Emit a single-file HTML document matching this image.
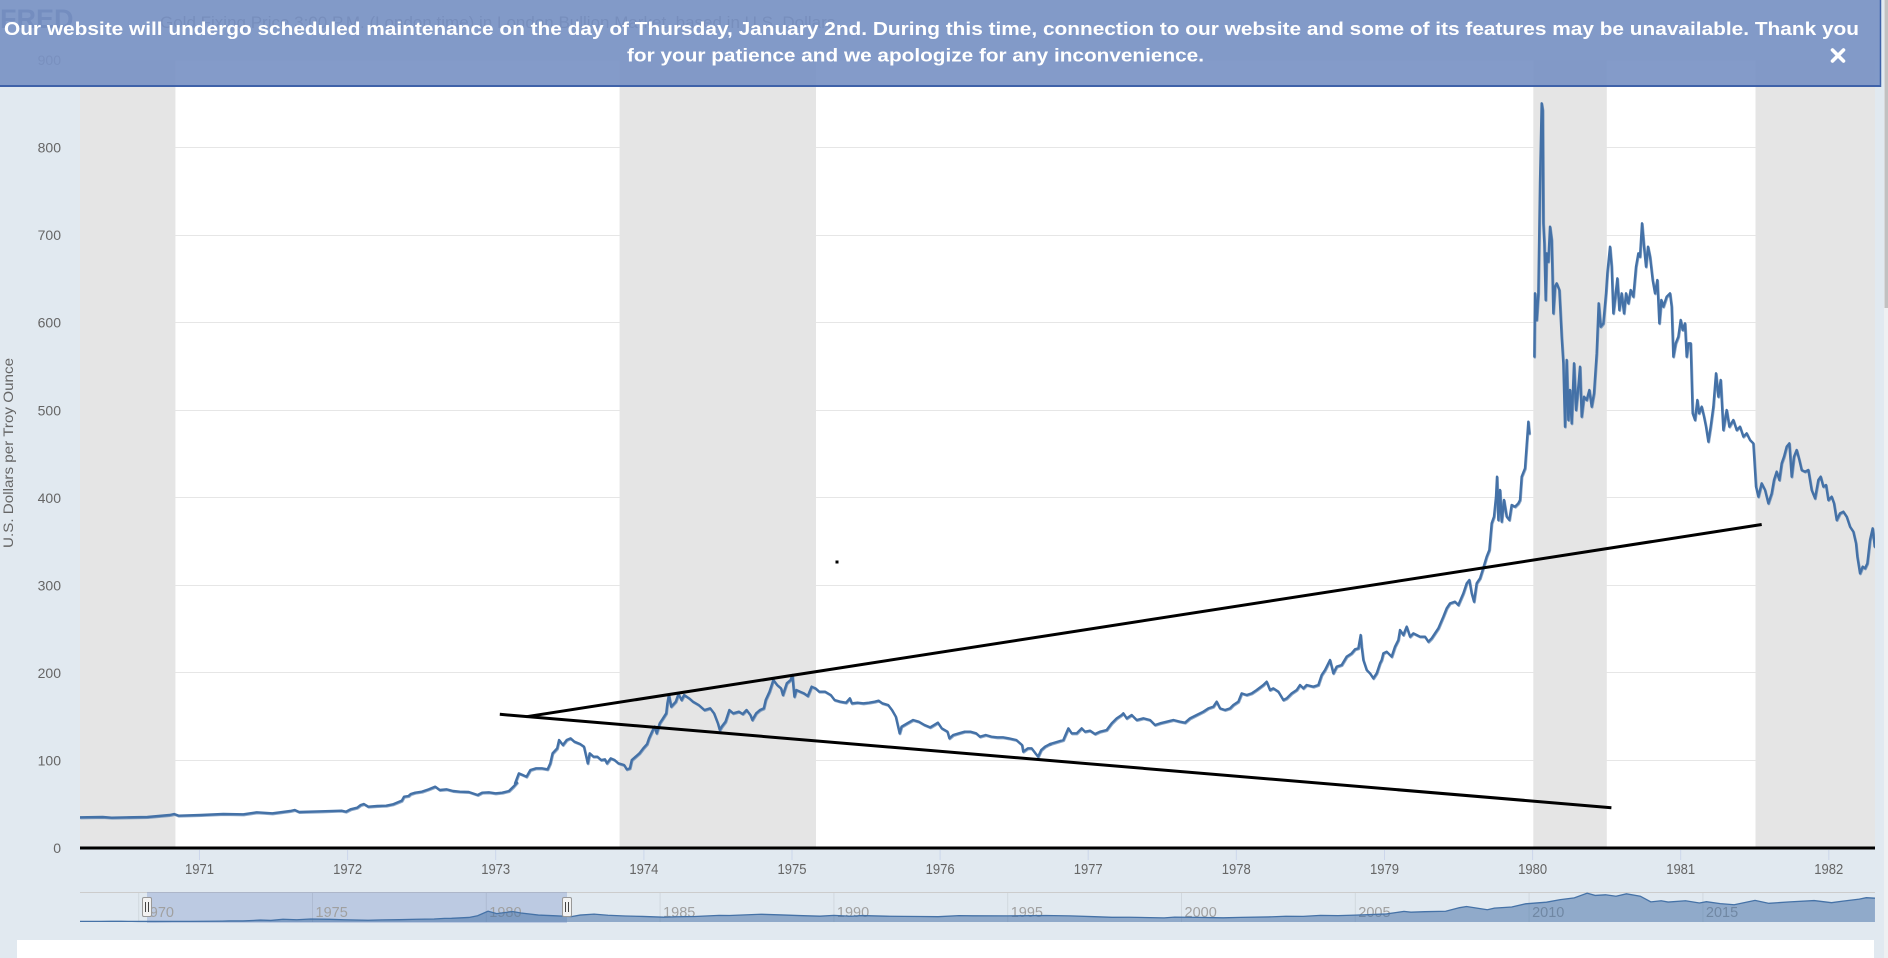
<!DOCTYPE html>
<html>
<head>
<meta charset="utf-8">
<style>
html,body{margin:0;padding:0;background:#e1e9f0;}
body{width:1888px;height:958px;overflow:hidden;}
svg{display:block;}
</style>
</head>
<body>
<svg width="1888" height="958" viewBox="0 0 1888 958" xmlns="http://www.w3.org/2000/svg" font-family="'Liberation Sans', Arial, sans-serif">
  <defs>
    <clipPath id="navclip"><rect x="80" y="880" width="1795" height="43"/></clipPath>
    <clipPath id="plotclip"><rect x="80" y="55" width="1795" height="795"/></clipPath>
    <g id="series">
    <g transform="translate(0,780) scale(0.44643,0.33333)">
      <polyline vector-effect="non-scaling-stroke" points="180,112 230,111 250,113 330,111 380,105 390,102 400,107 450,105 500,102 545,103 575,97 610,100 650,93 660,90 670,96 720,94 765,92 775,95 785,88 800,83 808,75 815,72 825,80 845,78 865,77 880,73 900,62 905,50 915,48 920,42 930,38 945,35 960,28 975,20 985,30 1000,28 1015,33 1030,35 1050,36 1070,45 1080,38 1095,37 1110,40 1125,38 1140,33 1150,20 1158,8"/>
    </g>
    <g transform="translate(450,620) scale(0.38265,0.33333)">
      <polyline vector-effect="non-scaling-stroke" points="170,490 180,460 190,465 200,470 210,450 225,445 240,445 255,448 262,430 268,400 280,385 285,360 295,375 305,360 315,355 325,365 340,372 350,380 360,430 365,400 375,410 385,410 395,420 405,418 410,430 420,415 430,420 440,430 455,435 462,448 470,445 475,420 485,410 495,400 505,385 515,372 520,355 530,330 535,320 540,340 548,310 555,298 565,280 568,250 572,225 578,260 590,245 597,222 605,240 612,225 625,235 635,245 650,255 665,270 680,265 690,280 700,310 705,330 710,320 720,305 730,270 740,280 755,275 765,282 775,270 785,285 790,300 800,280 810,270 820,265 825,240 835,215 845,180 855,195 865,205 870,225 880,190 890,180 895,165 897,195 900,230 905,210 915,215 925,220 935,228 945,200 955,205 965,215 980,215 995,225 1005,240 1020,245 1035,248 1045,235 1050,250 1065,248 1080,250 1095,248 1110,245 1120,242 1130,250 1145,255 1155,270 1165,290 1170,315 1175,340 1180,320 1195,310 1210,300 1225,305 1240,315 1255,322 1265,315 1275,308 1285,325 1300,335 1305,355 1315,345 1330,340 1345,335 1360,335 1375,340 1385,350 1400,345 1415,350 1430,352 1445,352 1460,355 1480,360 1495,375 1498,395 1510,385 1520,385 1530,400 1537,410 1545,390 1555,380 1568,372"/>
    </g>
    <g transform="translate(1050,380) scale(0.33333)">
      <polyline vector-effect="non-scaling-stroke" points="0,1092 40,1080 55,1045 65,1060 80,1060 95,1045 105,1055 120,1052 135,1062 150,1055 170,1050 185,1030 200,1015 215,1005 220,1000 230,1015 245,1005 260,1020 280,1015 300,1020 315,1035 330,1030 350,1025 370,1020 390,1025 405,1028 420,1015 440,1005 460,995 475,985 490,980 500,965 510,985 525,990 540,985 550,975 565,965 575,940 590,945 605,940 620,930 640,915 650,905 660,930 670,925 685,935 700,960 710,955 725,940 740,930 750,915 760,925 770,915 790,920 805,915 815,885 825,870 840,840 850,880 860,860 875,855 890,830 905,820 915,808 925,805 932,765 935,800 940,840 950,870 960,880 970,895 980,880 990,850 995,840 1000,820 1010,815 1025,830 1035,800 1045,780 1050,750 1060,765 1070,740 1080,770 1090,760 1100,765 1110,770 1125,770 1135,785 1145,775 1155,760 1165,745 1180,710 1190,685 1200,670 1215,665 1225,675 1240,640 1250,610 1258,600 1265,640 1272,665 1280,610 1290,595 1298,570 1310,530 1318,510 1325,430 1332,410 1338,350 1341,290 1345,420 1350,330 1355,425 1362,360 1370,410 1378,420 1385,375 1395,380 1405,370 1410,360 1415,290 1425,265 1435,125 1438,160"/>
    </g>
    <g transform="translate(1500,80) scale(0.33333)">
      <polyline vector-effect="non-scaling-stroke" points="103,830 105,640 110,720 115,640 120,310 125,70 128,90 130,430 133,490 137,660 140,520 145,545 150,440 155,480 160,700 165,620 170,610 178,630 185,770 190,850 195,1040 200,840 205,1020 210,930 215,1030 222,850 228,990 235,920 240,860 245,1010 252,950 260,960 268,930 275,980 282,940 290,820 296,670 302,740 310,730 318,640 322,580 330,500 335,560 340,700 346,650 352,595 358,690 365,640 372,700 378,640 385,670 392,630 400,650 408,560 415,520 420,530 426,430 432,500 438,560 444,500 450,530 458,600 465,640 472,600 478,730 484,660 490,680 500,650 510,640 515,680 520,830 527,790 535,770 542,720 548,750 555,730 560,830 565,790 572,790 578,1000 585,1020 592,960 597,1000 605,980 612,1010 618,1040 625,1085 632,1040 640,980 648,880 655,950 662,900 670,1050 680,990 688,1040 700,1020 710,1050 720,1040 730,1070 740,1060 750,1080 760,1090 768,1220 775,1250 785,1210 795,1230 805,1270 815,1240 822,1200 830,1175 838,1200 845,1150 852,1130 860,1100 868,1090 875,1190 882,1130 890,1110 898,1140 905,1170 915,1175 925,1170 935,1230 945,1255 955,1200 962,1190 970,1220 978,1215 985,1260 995,1250 1002,1270 1010,1320 1020,1300 1030,1295 1040,1310 1050,1340 1060,1355 1068,1390 1072,1430 1080,1480 1088,1460 1095,1465 1102,1450 1110,1380 1118,1345 1124,1400"/>
    </g>
    </g>
  </defs>

  <rect x="0" y="0" width="1888" height="958" fill="#e1e9f0"/>
  <rect x="80" y="60" width="1795" height="788" fill="#ffffff"/>

  <g stroke="#e6e6e6" stroke-width="1">
    <line x1="80" y1="760.5" x2="1875" y2="760.5"/>
    <line x1="80" y1="672.5" x2="1875" y2="672.5"/>
    <line x1="80" y1="585.5" x2="1875" y2="585.5"/>
    <line x1="80" y1="497.5" x2="1875" y2="497.5"/>
    <line x1="80" y1="410.5" x2="1875" y2="410.5"/>
    <line x1="80" y1="322.5" x2="1875" y2="322.5"/>
    <line x1="80" y1="235.5" x2="1875" y2="235.5"/>
    <line x1="80" y1="147.5" x2="1875" y2="147.5"/>
    <line x1="80" y1="60.5" x2="1875" y2="60.5"/>
  </g>

  <g fill="#e5e5e5">
    <rect x="80" y="60" width="95.4" height="788"/>
    <rect x="619.6" y="60" width="196.4" height="788"/>
    <rect x="1533.3" y="60" width="73.5" height="788"/>
    <rect x="1755.5" y="60" width="119.5" height="788"/>
  </g>

  <g font-size="14" fill="#666666" text-anchor="end">
    <text x="61" y="853">0</text>
    <text x="61" y="765.5">100</text>
    <text x="61" y="678">200</text>
    <text x="61" y="590.5">300</text>
    <text x="61" y="503">400</text>
    <text x="61" y="415.5">500</text>
    <text x="61" y="327.5">600</text>
    <text x="61" y="240">700</text>
    <text x="61" y="152.5">800</text>
    <text x="61" y="65">900</text>
  </g>

  <text transform="translate(13,453) rotate(-90)" text-anchor="middle" font-size="13.5" fill="#666666" textLength="190" lengthAdjust="spacingAndGlyphs">U.S. Dollars per Troy Ounce</text>

  <g stroke="#ccd6eb" stroke-width="1">
    <line x1="199.5" y1="850" x2="199.5" y2="860"/>
    <line x1="347.6" y1="850" x2="347.6" y2="860"/>
    <line x1="495.7" y1="850" x2="495.7" y2="860"/>
    <line x1="643.9" y1="850" x2="643.9" y2="860"/>
    <line x1="792.0" y1="850" x2="792.0" y2="860"/>
    <line x1="940.1" y1="850" x2="940.1" y2="860"/>
    <line x1="1088.2" y1="850" x2="1088.2" y2="860"/>
    <line x1="1236.3" y1="850" x2="1236.3" y2="860"/>
    <line x1="1384.5" y1="850" x2="1384.5" y2="860"/>
    <line x1="1532.6" y1="850" x2="1532.6" y2="860"/>
    <line x1="1680.7" y1="850" x2="1680.7" y2="860"/>
    <line x1="1828.8" y1="850" x2="1828.8" y2="860"/>
  </g>

  <g font-size="15" fill="#666666">
    <text x="185" y="874" textLength="29" lengthAdjust="spacingAndGlyphs">1971</text>
    <text x="333.1" y="874" textLength="29" lengthAdjust="spacingAndGlyphs">1972</text>
    <text x="481.2" y="874" textLength="29" lengthAdjust="spacingAndGlyphs">1973</text>
    <text x="629.4" y="874" textLength="29" lengthAdjust="spacingAndGlyphs">1974</text>
    <text x="777.5" y="874" textLength="29" lengthAdjust="spacingAndGlyphs">1975</text>
    <text x="925.6" y="874" textLength="29" lengthAdjust="spacingAndGlyphs">1976</text>
    <text x="1073.7" y="874" textLength="29" lengthAdjust="spacingAndGlyphs">1977</text>
    <text x="1221.8" y="874" textLength="29" lengthAdjust="spacingAndGlyphs">1978</text>
    <text x="1370" y="874" textLength="29" lengthAdjust="spacingAndGlyphs">1979</text>
    <text x="1518.1" y="874" textLength="29" lengthAdjust="spacingAndGlyphs">1980</text>
    <text x="1666.2" y="874" textLength="29" lengthAdjust="spacingAndGlyphs">1981</text>
    <text x="1814.3" y="874" textLength="29" lengthAdjust="spacingAndGlyphs">1982</text>
  </g>

  <!-- main series (thickened with offset copy to mimic daily noise) -->
  <g clip-path="url(#plotclip)" fill="none" stroke="#4572a7" stroke-width="2.4" stroke-linejoin="round" stroke-linecap="round">
    <use href="#series"/>
    <use href="#series" transform="translate(0.6,0.8)" stroke-opacity="0.6"/>
  </g>

  <line x1="80" y1="848" x2="1875" y2="848" stroke="#000" stroke-width="3"/>

  <line x1="499.8" y1="714.3" x2="1611.4" y2="807.7" stroke="#000" stroke-width="3"/>
  <line x1="526.5" y1="716.7" x2="1761.7" y2="524.5" stroke="#000" stroke-width="3"/>
  <rect x="835.5" y="560.5" width="3" height="3" fill="#000"/>

  <!-- navigator -->
  <line x1="80" y1="892.5" x2="1875" y2="892.5" stroke="#cccccc" stroke-width="1"/>
  <rect x="147" y="892" width="420" height="31" fill="rgba(102,133,194,0.3)"/>
  <g stroke="rgba(0,0,0,0.07)" stroke-width="1">
    <line x1="138.7" y1="893" x2="138.7" y2="922"/>
    <line x1="312.5" y1="893" x2="312.5" y2="922"/>
    <line x1="486.3" y1="893" x2="486.3" y2="922"/>
    <line x1="660.1" y1="893" x2="660.1" y2="922"/>
    <line x1="833.9" y1="893" x2="833.9" y2="922"/>
    <line x1="1007.7" y1="893" x2="1007.7" y2="922"/>
    <line x1="1181.5" y1="893" x2="1181.5" y2="922"/>
    <line x1="1355.3" y1="893" x2="1355.3" y2="922"/>
    <line x1="1529.1" y1="893" x2="1529.1" y2="922"/>
    <line x1="1702.9" y1="893" x2="1702.9" y2="922"/>
  </g>
  <g font-size="14.5" fill="#a0a0a0">
    <text x="141.7" y="917">1970</text>
    <text x="315.5" y="917">1975</text>
    <text x="489.3" y="917">1980</text>
    <text x="663.1" y="917">1985</text>
    <text x="836.9" y="917">1990</text>
    <text x="1010.7" y="917">1995</text>
    <text x="1184.5" y="917">2000</text>
    <text x="1358.3" y="917">2005</text>
    <text x="1532.1" y="917">2010</text>
    <text x="1705.9" y="917">2015</text>
  </g>
  <g clip-path="url(#navclip)">
    <g transform="translate(312.5,922) scale(34.76,-0.0161) translate(-1975,0)">
      <polygon fill="rgba(69,114,167,0.52)" stroke="none" points="1968.25,0 1968.25,38 1968.5,40 1968.9,41 1969.2,43 1969.5,42 1969.8,38 1970.0,35 1970.5,35.5 1971.0,38 1971.5,40 1972.0,46 1972.4,55 1972.6,66 1973.0,65 1973.5,120 1973.8,98 1974.15,172 1974.55,142 1974.95,185 1975.5,166 1975.9,140 1976.6,110 1977.0,132 1977.5,143 1978.0,172 1978.5,185 1978.8,225 1979.0,230 1979.5,282 1979.75,390 1980.05,675 1980.3,520 1980.75,650 1981.0,560 1981.5,430 1982.0,385 1982.45,335 1982.7,430 1983.1,490 1983.5,420 1984.0,375 1984.5,345 1985.1,300 1985.5,325 1986.0,340 1986.7,410 1987.0,405 1987.9,480 1988.5,440 1989.0,400 1989.6,360 1990.0,410 1990.5,355 1990.8,400 1991.5,360 1992.0,350 1992.5,340 1993.0,330 1993.6,395 1994.0,385 1995.0,380 1996.1,405 1996.8,380 1997.5,330 1998.0,290 1998.5,295 1999.5,258 1999.8,305 2000.5,285 2001.2,260 2001.7,285 2002.5,315 2003.0,355 2003.5,350 2004.0,410 2004.5,395 2005.0,425 2005.9,500 2006.4,660 2006.6,610 2007.0,640 2007.6,670 2008.0,890 2008.2,960 2008.8,760 2009.0,860 2009.5,930 2009.9,1130 2010.5,1230 2010.9,1390 2011.3,1500 2011.67,1790 2011.9,1650 2012.2,1690 2012.5,1600 2012.8,1750 2013.2,1600 2013.5,1250 2013.8,1320 2014.0,1240 2014.5,1320 2014.9,1180 2015.1,1260 2015.5,1140 2015.9,1070 2016.5,1340 2016.9,1160 2017.5,1250 2018.2,1330 2018.7,1200 2019.0,1290 2019.5,1420 2019.7,1510 2019.95,1480 2019.95,0"/>
      <polyline vector-effect="non-scaling-stroke" fill="none" stroke="#4572a7" stroke-width="1.3" points="1968.25,38 1968.5,40 1968.9,41 1969.2,43 1969.5,42 1969.8,38 1970.0,35 1970.5,35.5 1971.0,38 1971.5,40 1972.0,46 1972.4,55 1972.6,66 1973.0,65 1973.5,120 1973.8,98 1974.15,172 1974.55,142 1974.95,185 1975.5,166 1975.9,140 1976.6,110 1977.0,132 1977.5,143 1978.0,172 1978.5,185 1978.8,225 1979.0,230 1979.5,282 1979.75,390 1980.05,675 1980.3,520 1980.75,650 1981.0,560 1981.5,430 1982.0,385 1982.45,335 1982.7,430 1983.1,490 1983.5,420 1984.0,375 1984.5,345 1985.1,300 1985.5,325 1986.0,340 1986.7,410 1987.0,405 1987.9,480 1988.5,440 1989.0,400 1989.6,360 1990.0,410 1990.5,355 1990.8,400 1991.5,360 1992.0,350 1992.5,340 1993.0,330 1993.6,395 1994.0,385 1995.0,380 1996.1,405 1996.8,380 1997.5,330 1998.0,290 1998.5,295 1999.5,258 1999.8,305 2000.5,285 2001.2,260 2001.7,285 2002.5,315 2003.0,355 2003.5,350 2004.0,410 2004.5,395 2005.0,425 2005.9,500 2006.4,660 2006.6,610 2007.0,640 2007.6,670 2008.0,890 2008.2,960 2008.8,760 2009.0,860 2009.5,930 2009.9,1130 2010.5,1230 2010.9,1390 2011.3,1500 2011.67,1790 2011.9,1650 2012.2,1690 2012.5,1600 2012.8,1750 2013.2,1600 2013.5,1250 2013.8,1320 2014.0,1240 2014.5,1320 2014.9,1180 2015.1,1260 2015.5,1140 2015.9,1070 2016.5,1340 2016.9,1160 2017.5,1250 2018.2,1330 2018.7,1200 2019.0,1290 2019.5,1420 2019.7,1510 2019.95,1480"/>
    </g>
  </g>
  <g>
    <rect x="142.5" y="897.5" width="9" height="19" rx="1.5" fill="#f2f2f2" stroke="#999999" stroke-width="1"/>
    <line x1="145.5" y1="902" x2="145.5" y2="912" stroke="#444" stroke-width="1"/>
    <line x1="148.5" y1="902" x2="148.5" y2="912" stroke="#444" stroke-width="1"/>
    <rect x="562.5" y="897.5" width="9" height="19" rx="1.5" fill="#f2f2f2" stroke="#999999" stroke-width="1"/>
    <line x1="565.5" y1="902" x2="565.5" y2="912" stroke="#444" stroke-width="1"/>
    <line x1="568.5" y1="902" x2="568.5" y2="912" stroke="#444" stroke-width="1"/>
  </g>

  <rect x="17" y="940" width="1857" height="18" fill="#ffffff"/>

  <rect x="1884" y="0" width="4" height="958" fill="#eef0f2"/>
  <rect x="1884.5" y="0" width="3.5" height="308" fill="#c1c1c1"/>

  <text x="0" y="28" font-size="27" font-weight="bold" fill="#1f3c78">FRED</text>
  <text x="160" y="28" font-size="17" fill="#4a4a4a">Gold Fixing Price 3:00 P.M. (London time) in London Bullion Market, based in U.S. Dollars</text>

  <rect x="0" y="0" width="1880" height="86" fill="rgb(123,147,197)" fill-opacity="0.93"/>
  <line x1="0" y1="86" x2="1881" y2="86" stroke="#3f62a9" stroke-width="2"/>
  <line x1="1880.5" y1="0" x2="1880.5" y2="87" stroke="#3f62a9" stroke-width="1.5"/>
  <text x="4" y="35" font-size="18.5" font-weight="bold" fill="#ffffff" textLength="1855" lengthAdjust="spacingAndGlyphs">Our website will undergo scheduled maintenance on the day of Thursday, January 2nd. During this time, connection to our website and some of its features may be unavailable. Thank you</text>
  <text x="627" y="61.5" font-size="18.5" font-weight="bold" fill="#ffffff" textLength="577" lengthAdjust="spacingAndGlyphs">for your patience and we apologize for any inconvenience.</text>
  <g stroke="#ffffff" stroke-width="3.6" stroke-linecap="round">
    <line x1="1832.5" y1="50" x2="1843.5" y2="61"/>
    <line x1="1843.5" y1="50" x2="1832.5" y2="61"/>
  </g>
</svg>
</body>
</html>
